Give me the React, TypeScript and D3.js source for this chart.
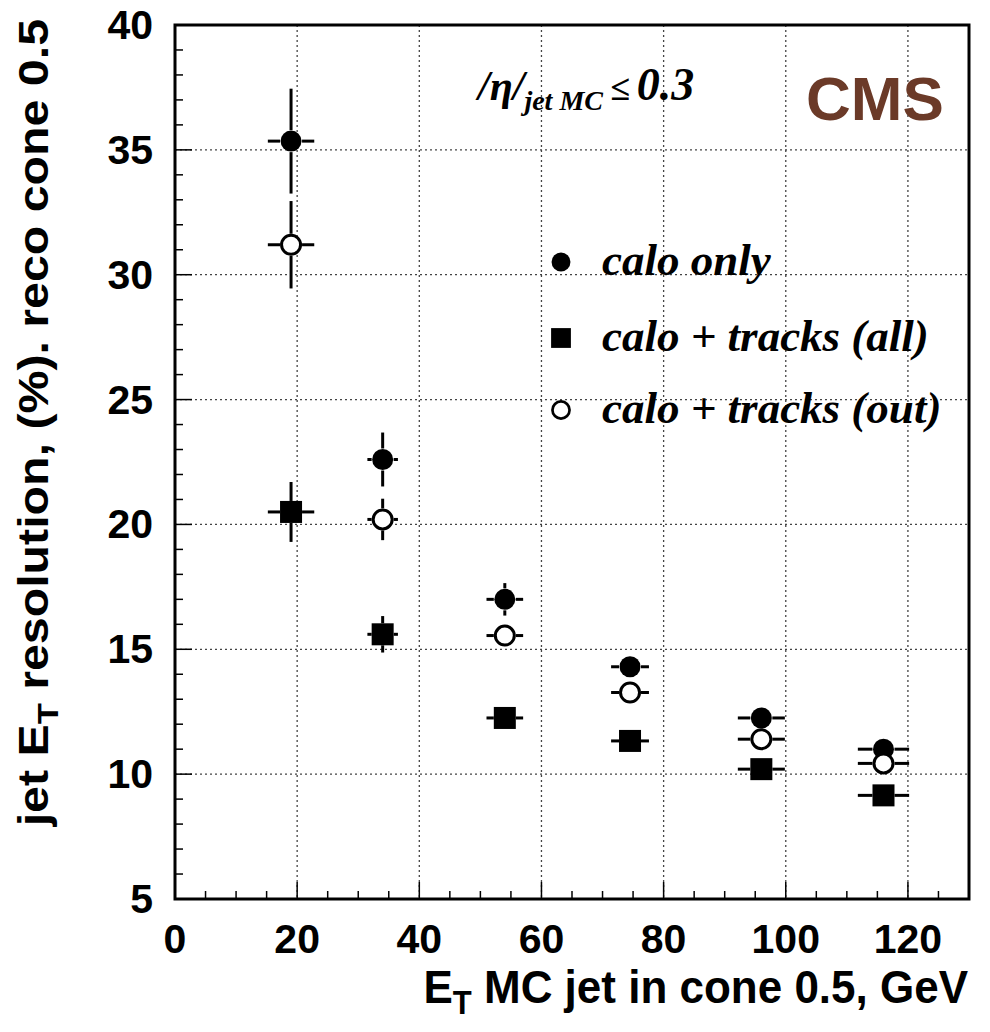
import React from "react";
import * as d3 from "d3";

// Jet E_T resolution vs MC jet E_T, three reconstruction methods
const energies = [19, 34, 54, 74.5, 96, 116];
const energyErr = [3.8, 2.5, 3.0, 3.1, 3.85, 4.2];

const caloOnly = [35.35, 22.6, 17.0, 14.3, 12.25, 11.0];
const caloOnlyErr = [2.1, 1.08, 0.65, 0.4, 0.3, 0.3];

const tracksAll = [20.5, 15.6, 12.25, 11.33, 10.2, 9.15];
const tracksAllErr = [1.2, 0.73, 0.35, 0.3, 0.3, 0.3];

const tracksOut = [31.2, 20.2, 15.55, 13.27, 11.4, 10.43];
const tracksOutErr = [1.75, 0.83, 0.4, 0.35, 0.3, 0.3];

const xTicks = [0, 20, 40, 60, 80, 100, 120];
const yTicks = [5, 10, 15, 20, 25, 30, 35, 40];

const legendLabels = ["calo only", "calo + tracks (all)", "calo + tracks (out)"];

const W = 990;
const H = 1032;
const frame = { left: 175, right: 969, top: 25, bottom: 899 };

const x = d3.scaleLinear().domain([0, 130]).range([frame.left, frame.right]);
const y = d3.scaleLinear().domain([5, 40]).range([frame.bottom, frame.top]);

type Kind = "filled" | "square" | "open";

const series: { kind: Kind; values: number[]; errors: number[] }[] = [
  { kind: "filled", values: caloOnly, errors: caloOnlyErr },
  { kind: "square", values: tracksAll, errors: tracksAllErr },
  { kind: "open", values: tracksOut, errors: tracksOutErr },
];

const SANS = "'Liberation Sans', Arial, Helvetica, sans-serif";
const SERIF = "'Liberation Serif', 'Times New Roman', serif";

function Marker({ kind, cx, cy, s = 1 }: { kind: Kind; cx: number; cy: number; s?: number }) {
  if (kind === "filled") return <circle cx={cx} cy={cy} r={10.5 * s} fill="#000" />;
  if (kind === "square")
    return <rect x={cx - 11 * s} y={cy - 11 * s} width={22 * s} height={22 * s} fill="#000" />;
  return <circle cx={cx} cy={cy} r={9.5 * s} fill="#fff" stroke="#000" strokeWidth={3 * s} />;
}

// ROOT-style error bars: drawn only outside the marker
function ErrorBars({ xv, xe, yv, ye }: { xv: number; xe: number; yv: number; ye: number }) {
  const cx = x(xv);
  const cy = y(yv);
  const gap = 11;
  const segs: [number, number, number, number][] = [];
  const dx = x(xv + xe) - cx;
  const dy = cy - y(yv + ye);
  if (dx > gap) {
    segs.push([cx - dx, cy, cx - gap, cy]);
    segs.push([cx + gap, cy, cx + dx, cy]);
  }
  if (dy > gap) {
    segs.push([cx, cy - dy, cx, cy - gap]);
    segs.push([cx, cy + gap, cx, cy + dy]);
  }
  return (
    <g stroke="#000" strokeWidth={3}>
      {segs.map((s, i) => (
        <line key={i} x1={s[0]} y1={s[1]} x2={s[2]} y2={s[3]} />
      ))}
    </g>
  );
}

export default function App() {
  const yMinor = d3.range(5, 40, 1);
  const xMinor = d3.range(0, 130, 5);
  return (
    <svg
      width={W}
      height={H}
      style={{ position: "absolute", left: 0, top: 0, background: "#fff" }}
    >
      <rect width={W} height={H} fill="#fff" />

      {/* dotted grid */}
      <g stroke="#444" strokeWidth={1.3} strokeDasharray="2,3">
        {xTicks
          .filter((t) => t > 0)
          .map((t) => (
            <line key={"gx" + t} x1={x(t)} x2={x(t)} y1={frame.top} y2={frame.bottom} />
          ))}
        {yTicks
          .filter((t) => t > 5 && t < 40)
          .map((t) => (
            <line key={"gy" + t} x1={frame.left} x2={frame.right} y1={y(t)} y2={y(t)} />
          ))}
      </g>

      {/* inward ticks */}
      <g stroke="#000" strokeWidth={1.5}>
        {yMinor.map((t) => (
          <line
            key={"ty" + t}
            x1={frame.left}
            x2={frame.left + (t % 5 === 0 ? 17 : 8)}
            y1={y(t)}
            y2={y(t)}
          />
        ))}
        {xMinor.map((t) => (
          <line
            key={"tx" + t}
            x1={x(t)}
            x2={x(t)}
            y1={frame.bottom}
            y2={frame.bottom - (t % 20 === 0 ? 17 : 8)}
          />
        ))}
      </g>

      {/* frame */}
      <rect
        x={frame.left}
        y={frame.top}
        width={frame.right - frame.left}
        height={frame.bottom - frame.top}
        fill="none"
        stroke="#000"
        strokeWidth={3}
      />

      {/* tick labels */}
      <g fontFamily={SANS} fontWeight="bold" fontSize={41} fill="#000">
        {xTicks.map((t) => (
          <text key={"lx" + t} x={x(t)} y={953} textAnchor="middle">
            {t}
          </text>
        ))}
        {yTicks.map((t) => (
          <text key={"ly" + t} x={153} y={y(t) + 14} textAnchor="end">
            {t}
          </text>
        ))}
      </g>

      {/* axis titles */}
      <text
        fontFamily={SANS}
        fontWeight="bold"
        fontSize={44}
        textAnchor="end"
        transform={`translate(968,1003) scale(1,1.06)`}
      >
        E<tspan fontSize={31} dy={10}>T</tspan>
        <tspan dy={-10}> MC jet in cone 0.5, GeV</tspan>
      </text>
      <text
        fontFamily={SANS}
        fontWeight="bold"
        fontSize={42}
        textAnchor="end"
        transform={`translate(48,19) rotate(-90) scale(1.15,1)`}
      >
        jet E<tspan fontSize={30} dy={10}>T</tspan>
        <tspan dy={-10}> resolution, (%). reco cone 0.5</tspan>
      </text>

      {/* error bars then markers */}
      {series.map((s) =>
        s.values.map((v, i) => (
          <ErrorBars
            key={s.kind + "e" + i}
            xv={energies[i]}
            xe={energyErr[i]}
            yv={v}
            ye={s.errors[i]}
          />
        ))
      )}
      {series.map((s) =>
        s.values.map((v, i) => (
          <Marker key={s.kind + "m" + i} kind={s.kind} cx={x(energies[i])} cy={y(v)} />
        ))
      )}

      {/* pseudorapidity cut */}
      <text fontFamily={SERIF} fontWeight="bold" fontStyle="italic" fontSize={42} x={478} y={100}>
        /η/
        <tspan fontSize={28} dy={10}>jet MC</tspan>
        <tspan fontSize={36} dy={-10} dx={7}>≤</tspan>
        <tspan fontSize={46} dx={7}>0.3</tspan>
      </text>

      {/* experiment label */}
      <text
        x={806}
        y={120}
        fontFamily={SANS}
        fontWeight="bold"
        fontSize={62}
        fill="#6b3a28"
      >
        CMS
      </text>

      {/* legend */}
      {legendLabels.map((label, i) => {
        const ly = [262, 338, 410][i];
        return (
          <g key={label}>
            <Marker kind={series[i].kind} cx={561} cy={ly} s={0.9} />
            <text
              x={602}
              y={ly + 13}
              fontFamily={SERIF}
              fontWeight="bold"
              fontStyle="italic"
              fontSize={45}
            >
              {label}
            </text>
          </g>
        );
      })}
    </svg>
  );
}
